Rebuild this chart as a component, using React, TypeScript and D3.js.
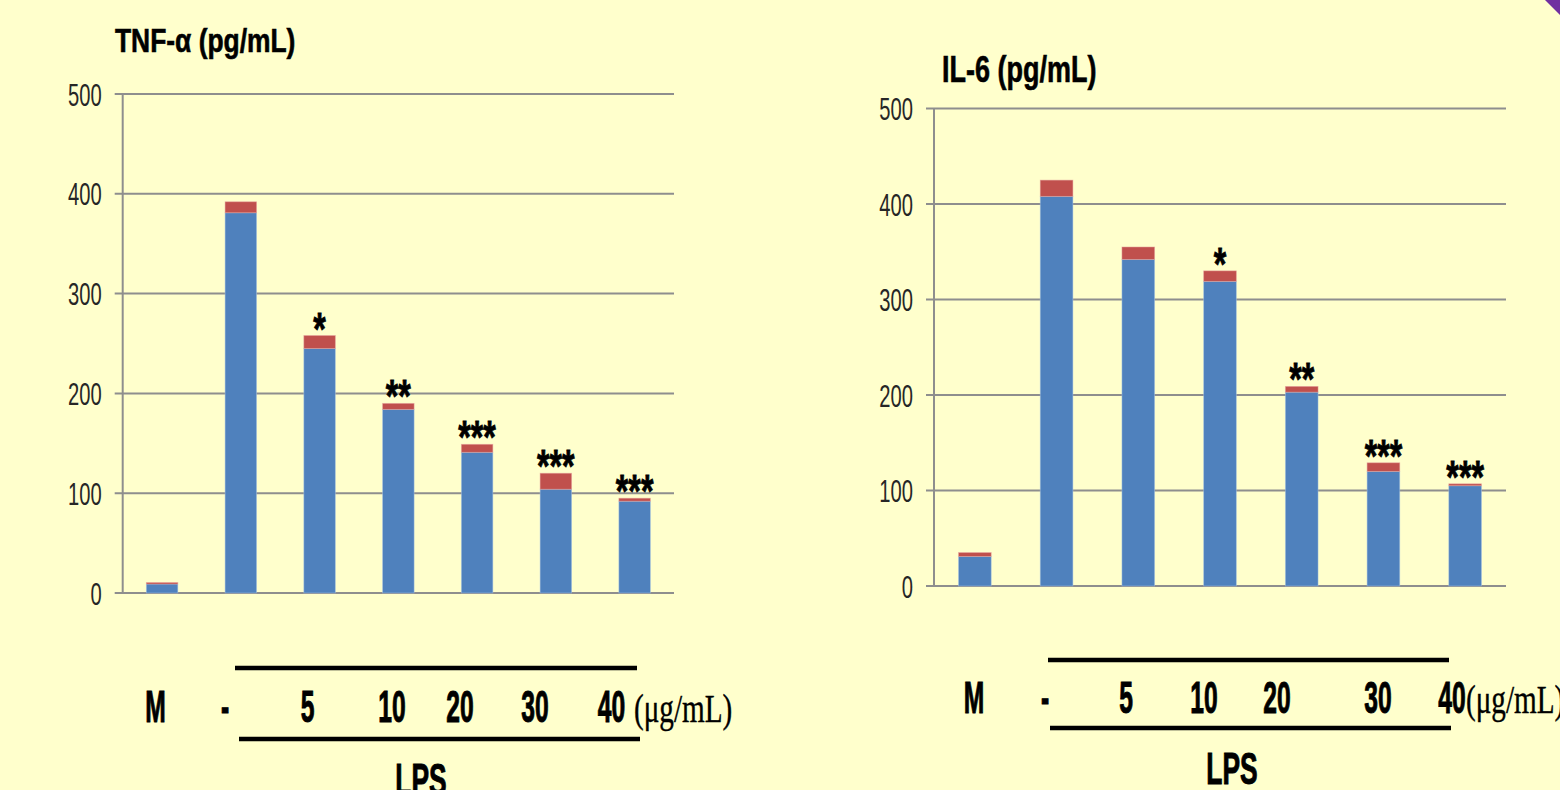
import React from "react";
import * as d3 from "d3";

// Cytokine secretion (pg/mL), mean and SD for each treatment group
const groups = ["M", "-", "5", "10", "20", "30", "40"];
const tnfMean = [9, 381, 245, 184, 141, 104, 92];
const tnfSd = [1.5, 11, 13, 6, 8, 16, 3];
const tnfSig = ["", "", "*", "**", "***", "***", "***"];
const il6Mean = [31, 408, 342, 319, 203, 120, 105];
const il6Sd = [4, 17, 13, 11, 6, 9, 2];
const il6Sig = ["", "", "", "*", "**", "***", "***"];
const yTicks = [0, 100, 200, 300, 400, 500];
const doseLabels = ["M", "-", "5", "10", "20", "30", "40"];
const unitLabel = "(μg/mL)";
const treatmentLabel = "LPS";

const BG = "#FFFFCC";
const BLUE = "#4F81BD";
const RED = "#C0504D";
const GRID = "#8E8E8E";
const SANS = "'Liberation Sans', Arial, sans-serif";
const SERIF = "'Liberation Serif', 'Times New Roman', serif";

type Layout = {
  left: number;
  right: number;
  top: number;
  bottom: number;
  title: { x: number; y: number; size: number; sx: number };
  barTop: [number, number, number];
  barBottom: [number, number, number];
  doseX: number[];
  doseY: number;
  unitX: number;
  lpsX: number;
  lpsY: number;
};

function SText(props: {
  x: number;
  y: number;
  sx?: number;
  size: number;
  weight?: string | number;
  family?: string;
  anchor?: "start" | "middle" | "end";
  fill?: string;
  dy?: string;
  heavy?: number;
  children: React.ReactNode;
}) {
  const { x, y, sx = 1, size, weight = "normal", family = SANS, anchor = "start", fill = "#000", dy, heavy = 0, children } = props;
  return (
    <text
      transform={`translate(${x},${y}) scale(${sx},1)`}
      fontSize={size}
      fontWeight={weight}
      fontFamily={family}
      textAnchor={anchor}
      fill={fill}
      stroke={heavy ? fill : undefined}
      strokeWidth={heavy || undefined}
      dy={dy}
    >
      {children}
    </text>
  );
}

function Panel({
  title,
  mean,
  sd,
  sig,
  L,
}: {
  title: string;
  mean: number[];
  sd: number[];
  sig: string[];
  L: Layout;
}) {
  const x = d3
    .scaleBand<string>()
    .domain(groups)
    .range([L.left, L.right])
    .paddingInner(0.6)
    .paddingOuter(0.3);
  const y = d3.scaleLinear().domain([0, 500]).range([L.bottom, L.top]);
  const bw = x.bandwidth();

  return (
    <g>
      <SText x={L.title.x} y={L.title.y} size={L.title.size} sx={L.title.sx} weight="bold" heavy={0.6}>
        {title}
      </SText>

      {/* gridlines, with the tick marks running past the axis */}
      {yTicks.map((t) => (
        <g key={t}>
          <line x1={L.left - 8} x2={L.right} y1={y(t)} y2={y(t)} stroke={GRID} strokeWidth={2} />
          <SText x={L.left - 21} y={y(t)} size={32} sx={0.63} anchor="end" fill="#262626" dy="0.36em">
            {t}
          </SText>
        </g>
      ))}
      <line x1={L.left} x2={L.left} y1={y(500)} y2={y(0)} stroke={GRID} strokeWidth={2} />

      {/* stacked bars: mean (blue) with SD segment (red) on top */}
      {groups.map((g, i) => {
        const x0 = x(g)!;
        const yMean = y(mean[i]);
        const yTop = y(mean[i] + sd[i]);
        return (
          <g key={g}>
            <rect x={x0} y={yMean} width={bw} height={y(0) - yMean} fill={BLUE} stroke="#a9c4e4" strokeOpacity={0.6} strokeWidth={0.8} />
            <rect x={x0} y={yTop} width={bw} height={yMean - yTop} fill={RED} stroke="#e6a3a0" strokeOpacity={0.6} strokeWidth={0.8} />
            {sig[i] && (
              <SText x={x0 + bw / 2} y={yTop + 9} size={46} sx={0.7} weight="bold" anchor="middle" heavy={0.8}>
                {sig[i]}
              </SText>
            )}
          </g>
        );
      })}

      {/* treatment brackets and dose labels */}
      <line x1={L.barTop[0]} x2={L.barTop[1]} y1={L.barTop[2]} y2={L.barTop[2]} stroke="#000" strokeWidth={4.5} />
      <line x1={L.barBottom[0]} x2={L.barBottom[1]} y1={L.barBottom[2]} y2={L.barBottom[2]} stroke="#000" strokeWidth={4.5} />
      {doseLabels.map((d, i) => (
        <SText key={d} x={L.doseX[i]} y={L.doseY} size={44} sx={0.56} weight="bold" anchor="middle" heavy={1}>
          {d}
        </SText>
      ))}
      <SText x={L.unitX} y={L.doseY} size={40} sx={0.73} family={SERIF} heavy={0.4}>
        {unitLabel}
      </SText>
      <SText x={L.lpsX} y={L.lpsY} size={44} sx={0.6} weight="bold" anchor="middle" heavy={1}>
        {treatmentLabel}
      </SText>
    </g>
  );
}

const leftLayout: Layout = {
  left: 122.7,
  right: 674,
  top: 94,
  bottom: 593,
  title: { x: 115, y: 52, size: 33, sx: 0.8 },
  barTop: [235, 637, 668],
  barBottom: [239, 640, 739],
  doseX: [155.5, 225, 307.5, 392, 460, 535, 611.5],
  doseY: 722,
  unitX: 634,
  lpsX: 421,
  lpsY: 795,
};

const rightLayout: Layout = {
  left: 934,
  right: 1506,
  top: 108.5,
  bottom: 586,
  title: { x: 942, y: 82, size: 36, sx: 0.75 },
  barTop: [1048, 1449, 660],
  barBottom: [1050, 1451, 728],
  doseX: [974, 1045, 1126, 1204, 1277, 1378, 1452],
  doseY: 713,
  unitX: 1466,
  lpsX: 1232,
  lpsY: 784,
};

export default function App() {
  return (
    <svg
      width={1560}
      height={790}
      style={{ position: "absolute", left: 0, top: 0, display: "block" }}
    >
      <rect x={0} y={0} width={1560} height={790} fill={BG} />
      <polygon points="1545,0 1560,0 1560,15" fill="#7030A0" />
      <Panel title="TNF-α (pg/mL)" mean={tnfMean} sd={tnfSd} sig={tnfSig} L={leftLayout} />
      <Panel title="IL-6 (pg/mL)" mean={il6Mean} sd={il6Sd} sig={il6Sig} L={rightLayout} />
    </svg>
  );
}
